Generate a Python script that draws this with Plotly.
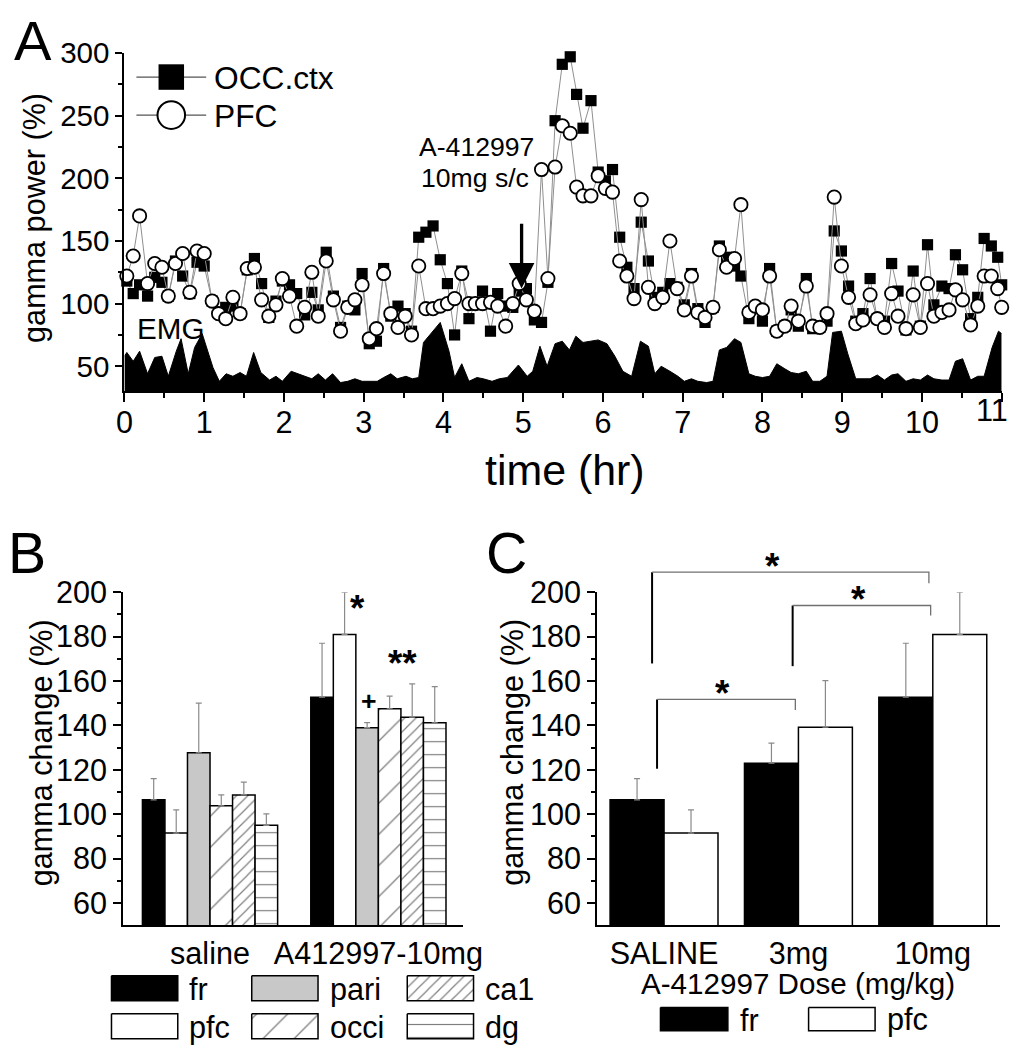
import plotly.graph_objects as go

# The page is photographed with a small scale/offset; reference pixel positions
# (R) are mapped to page pixels with d = (R - A) / B.
AX, BX = 7.2, 0.975
AY, BY = 17.0, 0.983
W, H = 1034, 1052
FS = 1 / 0.979
FONT = "Liberation Sans, Arial, Helvetica, sans-serif"

# ---------------- Panel A data ----------------
time_hr = [0.03, 0.11, 0.19, 0.29, 0.38, 0.47, 0.55, 0.64, 0.73, 0.82, 0.91, 1.00, 1.10, 1.18, 1.27, 1.36, 1.45, 1.54, 1.63, 1.72, 1.81, 1.90, 1.98, 2.07, 2.16,
           2.26, 2.35, 2.43, 2.53, 2.62, 2.71, 2.80, 2.89, 2.98, 3.07, 3.16, 3.25, 3.34, 3.43, 3.52, 3.60, 3.69, 3.78, 3.87, 3.96, 4.05, 4.14, 4.23, 4.32, 4.40,
           4.49, 4.59, 4.68, 4.78, 4.87, 4.95, 5.04, 5.14, 5.23, 5.31, 5.40, 5.49, 5.59, 5.67, 5.75, 5.85, 5.94, 6.03, 6.12, 6.21, 6.30, 6.39, 6.48, 6.57, 6.65,
           6.75, 6.84, 6.93, 7.02, 7.11, 7.19, 7.28, 7.38, 7.46, 7.55, 7.65, 7.73, 7.83, 7.91, 8.00, 8.09, 8.18, 8.28, 8.36, 8.45, 8.55, 8.63, 8.72, 8.81,
           8.90, 8.99, 9.08, 9.17, 9.26, 9.35, 9.44, 9.53, 9.62, 9.70, 9.80, 9.89, 9.98, 10.07, 10.15, 10.25, 10.34, 10.42, 10.51, 10.61, 10.70, 10.78, 10.87, 10.95, 11.0]

pfc_ctx = [122, 138, 170, 116, 132, 129, 106, 132, 140, 109, 142, 140, 102, 92, 88, 105, 92, 128, 129, 103, 90, 99, 120, 106, 82,
           97, 125, 90, 134, 103, 78, 97, 103, 115, 72, 80, 124, 92, 81, 90, 75, 130, 96, 96, 98, 100, 104, 124, 100, 100,
           100, 101, 98, 82, 100, 116, 103, 94, 207, 120, 209, 242, 236, 193, 186, 186, 202, 192, 189, 134, 122, 104, 183, 113, 100,
           105, 150, 112, 95, 122, 93, 89, 97, 143, 129, 136, 179, 93, 98, 95, 122, 78, 82, 98, 86, 114, 82, 81, 92,
           185, 130, 105, 84, 87, 107, 88, 81, 108, 90, 80, 107, 81, 116, 90, 93, 95, 111, 103, 83, 98, 122, 122, 112, 97]

occ_ctx = [118, 108, 115, 106, 121, 117, 106, 134, 122, 108, 133, 130, 102, 93, 97, 98, 92, 127, 136, 116, 89, 102, 118, 115, 108,
           91, 109, 95, 141, 106, 81, 98, 95, 124, 68, 70, 128, 90, 98, 92, 78, 153, 157, 162, 135, 116, 75, 126, 88, 100,
           110, 78, 108, 98, 97, 110, 112, 87, 85, 117, 246, 291, 297, 267, 240, 262, 205, 198, 207, 153, 129, 112, 165, 134, 105,
           109, 116, 113, 99, 124, 96, 85, 97, 146, 137, 130, 122, 88, 97, 86, 128, 78, 82, 95, 82, 120, 80, 81, 86,
           158, 142, 114, 86, 92, 120, 88, 86, 132, 110, 79, 126, 82, 147, 99, 114, 112, 139, 127, 88, 105, 152, 146, 137, 115]

emg_time = [0.0, 0.03, 0.11, 0.19, 0.29, 0.38, 0.47, 0.55, 0.65, 0.71, 0.80, 0.88, 0.975, 1.11, 1.19, 1.275, 1.36, 1.45, 1.53, 1.62, 1.71, 1.82, 1.90, 1.98, 2.09, 2.17,
            2.25, 2.35, 2.43, 2.52, 2.61, 2.71, 2.80, 2.89, 2.98, 3.07, 3.17, 3.25, 3.34, 3.42, 3.53, 3.61, 3.69, 3.75, 3.86, 3.96, 4.07, 4.14, 4.23, 4.32, 4.42,
            4.50, 4.61, 4.70, 4.80, 4.94, 5.05, 5.12, 5.21, 5.30, 5.40, 5.49, 5.58, 5.66, 5.75, 5.84, 5.94, 6.05, 6.15, 6.25, 6.36, 6.47, 6.57, 6.65,
            6.73, 6.84, 6.94, 7.02, 7.11, 7.19, 7.30, 7.38, 7.46, 7.55, 7.65, 7.73, 7.83, 7.91, 8.00, 8.09, 8.18, 8.28, 8.36, 8.45, 8.55, 8.63, 8.72, 8.81, 8.88,
            8.99, 9.07, 9.17, 9.26, 9.35, 9.44, 9.53, 9.62, 9.70, 9.80, 9.89, 9.98, 10.07, 10.15, 10.25, 10.34, 10.42, 10.51, 10.61, 10.70, 10.78, 10.88, 10.96, 11.0]

emg_pct = [58, 61, 54, 62, 44, 57, 58, 42, 62, 72, 44, 65, 76, 49, 38, 44, 42, 45, 42, 61, 45, 39, 42, 38, 46, 44,
           42, 40, 44, 39, 44, 37, 38, 40, 38, 38, 38, 41, 44, 40, 42, 40, 41, 69, 77, 85, 62, 41, 52, 38, 41,
           40, 38, 40, 41, 51, 42, 46, 66, 50, 68, 70, 63, 74, 69, 70, 71, 68, 58, 46, 42, 70, 66, 44,
           50, 46, 42, 38, 40, 38, 37, 38, 63, 65, 72, 69, 44, 42, 41, 42, 52, 48, 45, 44, 46, 38, 38, 42, 77,
           78, 60, 40, 40, 40, 43, 39, 43, 44, 38, 40, 39, 43, 40, 39, 39, 54, 56, 39, 42, 42, 65, 78, 76]

a_xticks = list(range(12))
a_xticktext = [str(v) for v in a_xticks[:-1]] + [""]   # last label drawn separately so it stays inside the page
a_xminor = [i + 0.5 for i in range(11)]
a_yticks = [50, 100, 150, 200, 250, 300]
a_yminor = [75, 125, 175, 225, 275]
injection = (4.98, 112, 165)   # time, arrow tip, arrow tail (gamma %)

# ---------------- Panel B data ----------------
b_groups = ["saline", "A412997-10mg"]
b_fr = [106.5, 152.7]
b_fr_err = [9.5, 24.3]
b_pfc = [91.5, 181.0]
b_pfc_err = [10.5, 19.0]
b_pari = [127.7, 139.0]
b_pari_err = [22.3, 2.3]
b_occi = [103.8, 147.5]
b_occi_err = [4.9, 5.7]
b_ca1 = [108.7, 143.7]
b_ca1_err = [5.8, 15.0]
b_dg = [95.0, 141.2]
b_dg_err = [5.2, 16.3]
b_marks = [("*", 0.877, 196.3, 36), ("**", 1.141, 171.3, 36), ("+", 0.943, 151.2, 26)]

# ---------------- Panel C data ----------------
c_doses = ["SALINE", "3mg", "10mg"]
c_fr = [106.5, 123.0, 152.7]
c_fr_err = [9.5, 9.0, 24.3]
c_pfc = [91.5, 139.2, 181.0]
c_pfc_err = [10.5, 21.0, 19.0]
# brackets: left x, right x (category units), left foot, top, right foot (gamma %)
c_brackets = [(-0.089, 1.971, 167.9, 209.0, 204.0),
              (0.957, 1.984, 166.7, 194.0, 189.5),
              (-0.052, 0.977, 120.5, 151.7, 147.0)]
c_stars = [(0.806, 215.2), (1.444, 200.1), (0.435, 158.0)]

bc_ticks = [60, 80, 100, 120, 140, 160, 180, 200]
bc_minor = [70, 90, 110, 130, 150, 170, 190]

# ---------------- geometry (reference pixels) ----------------
A_X, A_Y = (123, 1003), (53, 391)
B_X = (121.7, 462.7)
C_X = (597.3, 1001.7)
BC_Y = (591.7, 924.5)
A_RX, A_RY = [0, 11], [30, 300]
B_RX = [-0.516, 1.503]
C_RX = [-0.497, 2.503]
BC_RY = [50, 200]


def dx(r):
    return (r - AX) / BX


def dy(r):
    return (r - AY) / BY


def dom_x(p):
    return [dx(p[0]) / W, dx(p[1]) / W]


def dom_y(p):
    return [1 - dy(p[1]) / H, 1 - dy(p[0]) / H]


def lin(v, r, p):
    return p[0] + (v - r[0]) / (r[1] - r[0]) * (p[1] - p[0])


def b_px(v):
    return lin(v, B_RX, B_X)


def c_px(v):
    return lin(v, C_RX, C_X)


def bc_py(v):
    return lin(v, BC_RY, (BC_Y[1], BC_Y[0]))


def f(s):
    return round(s * FS, 1)


fig = go.Figure()

# ---- Panel A ----
fig.add_trace(go.Scatter(x=emg_time, y=emg_pct, mode="lines", fill="tozeroy",
                         fillcolor="black", line=dict(color="black", width=1),
                         xaxis="x", yaxis="y", hoverinfo="skip"))
fig.add_trace(go.Scatter(x=time_hr, y=occ_ctx, mode="lines+markers", name="OCC.ctx",
                         line=dict(color="#8f8f8f", width=1),
                         marker=dict(symbol="square", size=f(11), color="black",
                                     line=dict(color="black", width=0)),
                         cliponaxis=False, xaxis="x", yaxis="y"))
fig.add_trace(go.Scatter(x=time_hr, y=pfc_ctx, mode="lines+markers", name="PFC",
                         line=dict(color="#8f8f8f", width=1),
                         marker=dict(symbol="circle", size=f(13), color="white",
                                     line=dict(color="black", width=1.8)),
                         cliponaxis=False, xaxis="x", yaxis="y"))

# ---- Panel B ----
b_series = [("fr", b_fr, b_fr_err, "black", None),
            ("pfc", b_pfc, b_pfc_err, "white", None),
            ("pari", b_pari, b_pari_err, "#c8c8c8", None),
            ("occi", b_occi, b_occi_err, "white", dict(shape="/", size=22, solidity=0.06, fgcolor="black", bgcolor="white")),
            ("ca1", b_ca1, b_ca1_err, "white", dict(shape="/", size=8, solidity=0.15, fgcolor="black", bgcolor="white")),
            ("dg", b_dg, b_dg_err, "white", dict(shape="-", size=13, solidity=0.09, fgcolor="black", bgcolor="white"))]

for name, vals, errs, col, pat in b_series:
    mk = dict(color=col, line=dict(color="black", width=1.5))
    if pat:
        mk["pattern"] = pat
    fig.add_trace(go.Bar(x=b_groups, y=vals, name=name, marker=mk,
                         error_y=dict(type="data", array=errs, arrayminus=[0] * len(errs),
                                      symmetric=False, color="#8a8a8a", thickness=1.2, width=3),
                         xaxis="x2", yaxis="y2"))

# ---- Panel C ----
for name, vals, errs, col in [("fr", c_fr, c_fr_err, "black"), ("pfc", c_pfc, c_pfc_err, "white")]:
    fig.add_trace(go.Bar(x=c_doses, y=vals, name=name,
                         marker=dict(color=col, line=dict(color="black", width=1.5)),
                         error_y=dict(type="data", array=errs, arrayminus=[0] * len(errs),
                                      symmetric=False, color="#8a8a8a", thickness=1.2, width=3),
                         xaxis="x3", yaxis="y3"))

# ---- overlay (reference-pixel space) for legends / labels ----
def rect_trace(x0, y0, x1, y1, col, pat=None):
    t = go.Scatter(x=[x0, x1, x1, x0, x0], y=[y0, y0, y1, y1, y0], mode="lines",
                   fill="toself", fillcolor=col, line=dict(color="black", width=1.5),
                   xaxis="x4", yaxis="y4", hoverinfo="skip")
    if pat:
        t.fillpattern = pat
    return t

# legend A
for yy, sym, size, col, lw in [(77, "square", 25, "black", 0), (115, "circle", 27, "white", 2)]:
    fig.add_trace(go.Scatter(x=[135, 205], y=[yy, yy], mode="lines",
                             line=dict(color="#555555", width=1.2), xaxis="x4", yaxis="y4", hoverinfo="skip"))
    fig.add_trace(go.Scatter(x=[170], y=[yy], mode="markers",
                             marker=dict(symbol=sym, size=f(size), color=col, line=dict(color="black", width=lw)),
                             xaxis="x4", yaxis="y4", hoverinfo="skip"))

# legend B
b_leg_cols = [110, 250.7, 406.7]
b_leg_rows = [(975, 1000), (1013, 1038)]
b_leg_order = [(0, 0), (0, 1), (1, 0), (1, 1), (2, 0), (2, 1)]  # (col,row) for fr,pfc,pari,occi,ca1,dg
for (name, vals, errs, col, pat), (ci, ri) in zip(b_series, b_leg_order):
    x0 = b_leg_cols[ci]
    y0, y1 = b_leg_rows[ri]
    fig.add_trace(rect_trace(x0, y0, x0 + 66.5, y1, col, pat))

# legend C
fig.add_trace(rect_trace(660.7, 1006.7, 728.3, 1030, "black"))
fig.add_trace(rect_trace(809.3, 1006.7, 876, 1030, "white"))

# brackets for C (converted from data units through C's scale)
for xl, xr, yl, yt, yr in c_brackets:
    fig.add_trace(go.Scatter(x=[c_px(xl), c_px(xl)], y=[bc_py(yl), bc_py(yt)], mode="lines",
                             line=dict(color="black", width=2), xaxis="x4", yaxis="y4", hoverinfo="skip"))
    fig.add_trace(go.Scatter(x=[c_px(xl), c_px(xr), c_px(xr)], y=[bc_py(yt), bc_py(yt), bc_py(yr)], mode="lines",
                             line=dict(color="#707070", width=1.3), xaxis="x4", yaxis="y4", hoverinfo="skip"))

ann = []


def ptext(text, x, y, size, xanchor="center", angle=0, family=FONT, yshift=0):
    ann.append(dict(text=text, x=x, y=y, xref="x4", yref="y4", showarrow=False,
                    xanchor=xanchor, yanchor="middle", textangle=angle, yshift=yshift,
                    font=dict(size=f(size), family=family, color="black")))


ptext("A", 31, 40, 55)
ptext("B", 25, 553, 56)
ptext("C", 506, 553, 56)
ptext("gamma power (%)", 32, 218, 30, angle=-90)
ptext("time (hr)", 565, 470, 42)
ptext("EMG", 169, 328, 29)
ptext("A-412997", 416, 147, 26, xanchor="left")
ptext("10mg s/c", 418, 178, 26, xanchor="left")
ptext("OCC.ctx", 211, 78, 31, xanchor="left")
ptext("PFC", 211, 116, 31, xanchor="left")
ptext("gamma change (%)", 40, 752, 30, angle=-90)
ptext("gamma change (%)", 512, 752, 30, angle=-90)
ptext("A-412997 Dose (mg/kg)", 799, 983, 29)
ptext(str(a_xticks[-1]), 1011, 410, 30, xanchor="right")
for (name, vals, errs, col, pat), (ci, ri) in zip(b_series, b_leg_order):
    y0, y1 = b_leg_rows[ri]
    ptext(name, b_leg_cols[ci] + 76, (y0 + y1) / 2 + 1, 30, xanchor="left")
ptext("fr", 738, 1019, 30, xanchor="left")
ptext("pfc", 886, 1019, 30, xanchor="left")

# significance marks (positioned through the B / C scales)
for txt, xv, yv, sz in b_marks:
    ptext("<b>%s</b>" % txt, b_px(xv), bc_py(yv), sz, yshift=-8 if txt != "+" else 0)
for sx, sy in c_stars:
    ptext("<b>*</b>", c_px(sx), bc_py(sy), 36, yshift=-8)

# injection arrow
ann.append(dict(x=injection[0], y=injection[1], ax=injection[0], ay=injection[2],
                xref="x", yref="y", axref="x", ayref="y", text="", showarrow=True,
                arrowhead=2, arrowsize=1.55, arrowwidth=3.3, arrowcolor="black"))

axis_common = dict(showline=True, linecolor="black", linewidth=2, showgrid=False,
                   zeroline=False, ticks="outside", tickcolor="black", tickwidth=2)

fig.update_layout(
    width=W, height=H, margin=dict(l=0, r=0, t=0, b=0),
    paper_bgcolor="white", plot_bgcolor="rgba(0,0,0,0)",
    showlegend=False, barmode="group", bargap=0.197, bargroupgap=0,
    font=dict(family=FONT, color="black"),
    annotations=ann,
    xaxis=dict(domain=dom_x(A_X), anchor="y", range=A_RX, tickmode="array", tickvals=a_xticks,
               ticktext=a_xticktext, ticklen=9, tickfont=dict(size=f(30)), ticklabelstandoff=-6,
               minor=dict(tickvals=a_xminor, ticklen=5, tickwidth=1.5, ticks="outside", tickcolor="black"),
               **axis_common),
    yaxis=dict(domain=dom_y(A_Y), anchor="x", range=A_RY, tickmode="array", tickvals=a_yticks,
               ticklen=7, tickfont=dict(size=f(29)),
               minor=dict(tickvals=a_yminor, ticklen=4, tickwidth=1.5, ticks="outside", tickcolor="black"),
               **axis_common),
    xaxis2=dict(domain=dom_x(B_X), anchor="y2", range=B_RX, type="category",
                showline=True, linecolor="black", linewidth=2, showgrid=False, zeroline=False,
                ticks="", tickfont=dict(size=f(30))),
    yaxis2=dict(domain=dom_y(BC_Y), anchor="x2", range=BC_RY, tickmode="array", tickvals=bc_ticks,
                ticklen=8, tickfont=dict(size=f(30)),
                minor=dict(tickvals=bc_minor, ticklen=4, tickwidth=1.5, ticks="outside", tickcolor="black"),
                **axis_common),
    xaxis3=dict(domain=dom_x(C_X), anchor="y3", range=C_RX, type="category",
                showline=True, linecolor="black", linewidth=2, showgrid=False, zeroline=False,
                ticks="", tickfont=dict(size=f(30))),
    yaxis3=dict(domain=dom_y(BC_Y), anchor="x3", range=BC_RY, tickmode="array", tickvals=bc_ticks,
                ticklen=8, tickfont=dict(size=f(30)),
                minor=dict(tickvals=bc_minor, ticklen=4, tickwidth=1.5, ticks="outside", tickcolor="black"),
                **axis_common),
    xaxis4=dict(domain=[0, 1], anchor="y4", range=[AX, AX + BX * W], visible=False, fixedrange=True),
    yaxis4=dict(domain=[0, 1], anchor="x4", range=[AY + BY * H, AY], visible=False, fixedrange=True),
)

fig.write_html("out.html", config={"displayModeBar": False},
               post_script="document.body.style.margin='0';document.body.style.overflow='hidden';")
